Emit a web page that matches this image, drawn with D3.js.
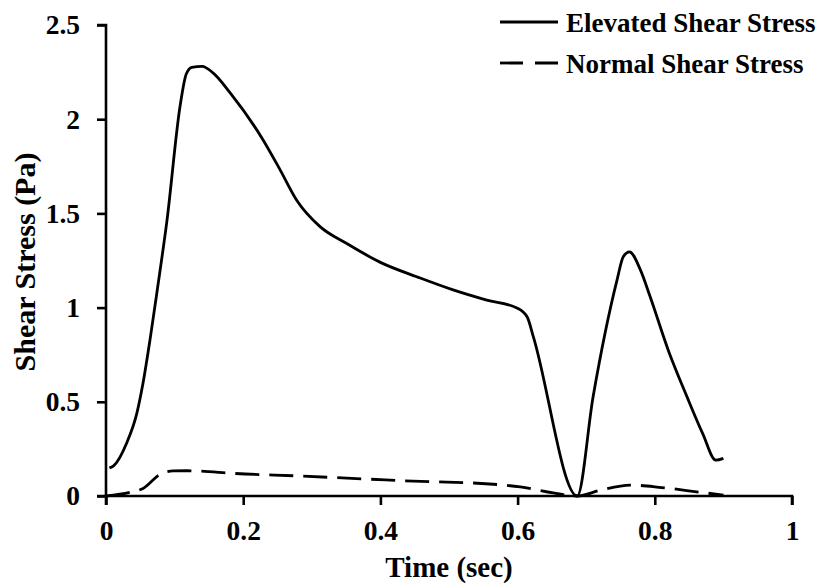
<!DOCTYPE html>
<html>
<head>
<meta charset="utf-8">
<script src="https://cdn.jsdelivr.net/npm/d3@7"></script>
<style>
  html, body { margin: 0; padding: 0; background: #fff; }
  text { font-family: "Liberation Serif", "Times New Roman", serif; font-weight: bold; fill: #000; }
</style>
</head>
<body>
<svg id="chart" width="826" height="584"></svg>
<script>
// ---- data ----
const elevatedTime   = [0.005, 0.011, 0.03, 0.045, 0.054, 0.065, 0.075, 0.089, 0.108, 0.117, 0.125, 0.14, 0.156, 0.181, 0.229, 0.254, 0.278, 0.312, 0.351, 0.4, 0.458, 0.506, 0.555, 0.599, 0.614, 0.623, 0.687, 0.71, 0.745, 0.754, 0.763, 0.779, 0.793, 0.82, 0.847, 0.87, 0.889, 0.9];
const elevatedStress = [0.149, 0.16, 0.28, 0.44, 0.6, 0.85, 1.1, 1.466, 2.07, 2.24, 2.275, 2.28, 2.246, 2.14, 1.89, 1.73, 1.57, 1.43, 1.34, 1.24, 1.157, 1.094, 1.04, 0.998, 0.95, 0.845, 0.0, 0.526, 1.147, 1.27, 1.296, 1.2, 1.06, 0.77, 0.526, 0.33, 0.19, 0.2];

const normalTime   = [0.0, 0.035, 0.054, 0.081, 0.098, 0.118, 0.132, 0.186, 0.283, 0.38, 0.472, 0.497, 0.604, 0.652, 0.687, 0.72, 0.764, 0.81, 0.866, 0.9];
const normalStress = [0.0, 0.02, 0.04, 0.12, 0.133, 0.134, 0.133, 0.12, 0.106, 0.09, 0.076, 0.074, 0.048, 0.016, 0.0, 0.03, 0.058, 0.045, 0.02, 0.005];

const xTicks = [0, 0.2, 0.4, 0.6, 0.8, 1];
const xTickLabels = ["0", "0.2", "0.4", "0.6", "0.8", "1"];
const yTicks = [0, 0.5, 1, 1.5, 2, 2.5];
const yTickLabels = ["0", "0.5", "1", "1.5", "2", "2.5"];

const seriesNames = ["Elevated Shear Stress", "Normal Shear Stress"];
const xTitle = "Time (sec)";
const yTitle = "Shear Stress (Pa)";

// ---- layout ----
const svg = d3.select("#chart");
const x = d3.scaleLinear().domain([0, 1]).range([106, 792]);
const y = d3.scaleLinear().domain([0, 2.5]).range([496, 25]);

// axes
const xAxis = d3.axisBottom(x).tickValues(xTicks).tickFormat((d, i) => xTickLabels[i]).tickSize(9).tickPadding(15);
const yAxis = d3.axisLeft(y).tickValues(yTicks).tickFormat((d, i) => yTickLabels[i]).tickSize(9).tickPadding(17);

const gx = svg.append("g").attr("transform", `translate(0,${y(0)})`).call(xAxis);
const gy = svg.append("g").attr("transform", `translate(${x(0)},0)`).call(yAxis);

[gx, gy].forEach(g => {
  g.select(".domain").attr("stroke", "#000").attr("stroke-width", 2.6);
  g.selectAll(".tick line").attr("stroke", "#000").attr("stroke-width", 2.6);
  g.selectAll(".tick text").style("font-family", '"Liberation Serif", "Times New Roman", serif')
    .style("font-weight", "bold").style("font-size", "27.5px").attr("fill", "#000");
});
gy.select(".domain").attr("d", `M-9,${y(2.5)}H0V${y(0)}H-9`);
gx.select(".domain").attr("d", `M${x(0)},9V0H${x(1)}V9`);

// lines
const line = d3.line().x(d => x(d[0])).y(d => y(d[1])).curve(d3.curveMonotoneX);

svg.append("path")
  .datum(elevatedTime.map((t, i) => [t, elevatedStress[i]]))
  .attr("fill", "none").attr("stroke", "#000").attr("stroke-width", 2.8)
  .attr("stroke-linejoin", "round")
  .attr("d", line);

svg.append("path")
  .datum(normalTime.map((t, i) => [t, normalStress[i]]))
  .attr("fill", "none").attr("stroke", "#000").attr("stroke-width", 2.8)
  .attr("stroke-dasharray", "24,10")
  .attr("d", line);

// axis titles
svg.append("text").attr("x", 449).attr("y", 577).attr("text-anchor", "middle")
  .style("font-size", "29px").text(xTitle);
svg.append("text").attr("transform", "translate(35,262) rotate(-90)").attr("text-anchor", "middle")
  .style("font-size", "30px").text(yTitle);

// legend
const legend = svg.append("g");
const legY = [22, 63];
legend.selectAll("line").data(seriesNames).enter().append("line")
  .attr("x1", 500).attr("x2", 558)
  .attr("y1", (d, i) => legY[i]).attr("y2", (d, i) => legY[i])
  .attr("stroke", "#000").attr("stroke-width", 2.8)
  .attr("stroke-dasharray", (d, i) => i === 0 ? null : "23,12");
legend.selectAll("text").data(seriesNames).enter().append("text")
  .attr("x", 566).attr("y", (d, i) => legY[i] + 9.5)
  .style("font-size", "27px").text(d => d);
</script>
</body>
</html>
